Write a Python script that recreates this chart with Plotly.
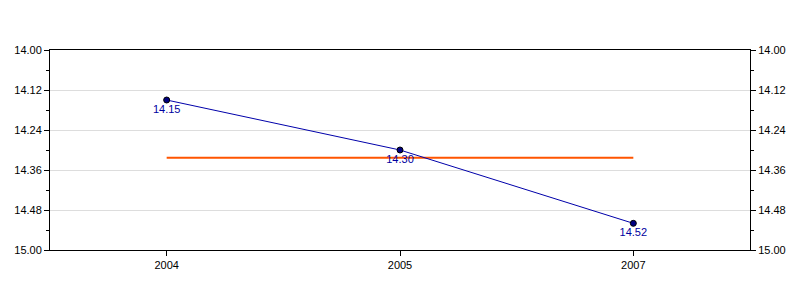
import plotly.graph_objects as go

years = ["2004", "2005", "2007"]
values = [14.15, 14.30, 14.52]
value_labels = ["14.15", "14.30", "14.52"]
tick_vals = [14.00, 14.12, 14.24, 14.36, 14.48, 14.60]
tick_text = ["14.00", "14.12", "14.24", "14.36", "14.48", "15.00"]

mean_val = sum(values) / len(values)

font = dict(family="Liberation Sans, Arial, sans-serif", size=11, color="#000000")

fig = go.Figure()
fig.add_trace(go.Scatter(
    x=[years[0], years[-1]], y=[mean_val, mean_val], mode="lines",
    line=dict(color="#FF5500", width=2), hoverinfo="skip", showlegend=False))
fig.add_trace(go.Scatter(
    x=years, y=values, mode="lines+markers+text",
    text=value_labels, textposition="bottom center",
    textfont=dict(family="Liberation Sans, Arial, sans-serif", size=11, color="#0000A0"),
    line=dict(color="#0000AA", width=1),
    marker=dict(color="#000080", size=6, line=dict(color="#000000", width=1)),
    showlegend=False))
fig.add_trace(go.Scatter(
    x=years, y=values, yaxis="y2", mode="markers",
    marker=dict(opacity=0), hoverinfo="skip", showlegend=False))

yax = dict(
    range=[14.60, 14.00], tickvals=tick_vals, ticktext=tick_text,
    ticks="outside", ticklen=5, tickcolor="#000000",
    showline=True, linecolor="#000000", linewidth=1,
    showgrid=True, gridcolor="#DDDDDD", gridwidth=1, zeroline=False,
    tickfont=font,
    minor=dict(tickvals=[14.06, 14.18, 14.30, 14.42, 14.54], ticks="outside",
               ticklen=3, tickcolor="#000000", showgrid=False),
)

fig.update_layout(
    width=800, height=300,
    margin=dict(l=50, r=50, t=50, b=50),
    paper_bgcolor="#FFFFFF", plot_bgcolor="#FFFFFF",
    xaxis=dict(type="category", categoryorder="array", categoryarray=years,
               range=[-0.5, 2.5], ticks="outside", ticklen=5,
               tickcolor="#000000", showline=True, linecolor="#000000", linewidth=1,
               mirror=True, showgrid=False, tickfont=font),
    yaxis=yax,
    yaxis2=dict(yax, overlaying="y", side="right", showgrid=False),
)

fig.write_html("out.html")
